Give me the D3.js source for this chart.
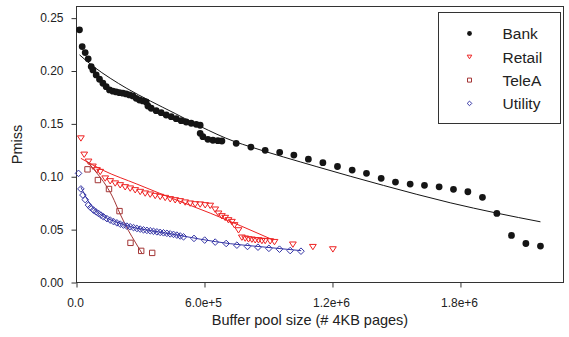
<!DOCTYPE html>
<html>
<head>
<meta charset="utf-8">
<script src="https://cdn.jsdelivr.net/npm/d3@7"></script>
<style>
  html, body { margin: 0; padding: 0; background: #fff; }
  svg { display: block; font-family: "Liberation Sans", Arial, sans-serif; }
</style>
</head>
<body>
<svg id="chart" width="569" height="337"></svg>
<script>
// ---- data: buffer pool size (pages) vs. miss probability ----
const bankX = [14000, 26700, 40800, 54800, 68900, 76900, 92300, 107800, 123750, 139200, 154700, 170600, 186100, 201600, 217500, 233000, 248400, 264400, 279800, 295300, 311300, 326700, 334700, 350200, 373600, 397000, 420500, 443900, 467300, 490800, 514200, 537700, 561100, 579800,
  579800, 592500, 615900, 639400, 662800, 681600,
  748600, 817500, 884500, 952500, 1019000, 1087000, 1155000, 1223400, 1292300, 1359400, 1428300, 1495300, 1564200, 1631250, 1700000, 1767200, 1834700, 1903100, 1970600, 2039100, 2106600, 2175000];
const bankY = [0.2389, 0.2231, 0.2174, 0.2115, 0.2042, 0.2010, 0.1963, 0.1922, 0.1884, 0.1852, 0.1821, 0.1809, 0.1802, 0.1795, 0.1790, 0.1783, 0.1774, 0.1764, 0.1742, 0.1726, 0.1717, 0.1707, 0.1669, 0.1648, 0.1625, 0.1606, 0.1584, 0.1568, 0.1549, 0.1530, 0.1518, 0.1506, 0.1496, 0.1487,
  0.1411, 0.1379, 0.1354, 0.1345, 0.1341, 0.1338,
  0.1316, 0.1281, 0.1250, 0.1231, 0.1205, 0.1166, 0.1133, 0.1097, 0.1063, 0.1032, 0.0985, 0.0950, 0.0931, 0.0919, 0.0905, 0.0881, 0.0858, 0.0805, 0.0653, 0.0445, 0.0369, 0.0344];
const bankFitX = [14060, 79690, 157970, 236250, 345560, 462660, 576560, 740630, 814220, 1126880, 1439060, 1751720, 1970630, 2175000];
const bankFitY = [0.2153, 0.2042, 0.1932, 0.1835, 0.1717, 0.1598, 0.1480, 0.1333, 0.1284, 0.1095, 0.0918, 0.0754, 0.0656, 0.0574];

const retailX = [20600, 36100, 56250, 76900, 95600, 111100, 134500, 158000, 181400, 204800, 228300, 251700, 275200, 298600, 322000, 345500, 368900, 392300, 415800, 439200, 462700, 486100, 509500, 533000, 556400, 579800, 603300, 626700,
  650200, 665600, 681600, 697100, 712500, 728400, 740600, 759400, 775300, 790800, 806300, 822200, 837700, 853100, 869100, 884500, 908000, 928100, 1014400, 1108100, 1201900];
const retailY = [0.1364, 0.1210, 0.1144, 0.1097, 0.1063, 0.1047, 0.0985, 0.0959, 0.0938, 0.0921, 0.0902, 0.0890, 0.0874, 0.0858, 0.0843, 0.0833, 0.0820, 0.0811, 0.0801, 0.0789, 0.0779, 0.0770, 0.0758, 0.0748, 0.0741, 0.0739, 0.0732, 0.0727,
  0.0691, 0.0653, 0.0628, 0.0612, 0.0590, 0.0574, 0.0543, 0.0495, 0.0426, 0.0417, 0.0410, 0.0407, 0.0401, 0.0401, 0.0394, 0.0394, 0.0391, 0.0384, 0.0360, 0.0337, 0.0315];
const retailFitX = [20600, 126600, 283100, 439200, 626700, 767300, 923400];
const retailFitY = [0.1174, 0.1059, 0.0931, 0.0803, 0.0656, 0.0538, 0.0401];

const teleX = [51600, 100300, 152300, 201600, 253100, 303300, 354800];
const teleY = [0.1070, 0.0969, 0.0884, 0.0675, 0.0375, 0.0299, 0.0280];
const teleFitX = [51600, 87700, 126600, 167300, 204800, 242300, 275200, 306600];
const teleFitY = [0.1144, 0.1054, 0.0953, 0.0817, 0.0647, 0.0495, 0.0382, 0.0277];

const utilX = [9400, 20600, 30000, 40800, 56250, 66600, 79700, 91400, 103100, 114800, 126600, 142500, 158000, 173400, 189400, 204800, 220300, 236200, 251700, 267200, 283100, 298600, 314100, 330000, 345500, 360900, 376900, 392300, 407800, 423750, 439200, 454700, 470600, 486100, 501600,
  550800, 600900, 650200, 701700, 751900, 801600, 850800, 901900, 951600, 1001700, 1052300];
const utilY = [0.1032, 0.0885, 0.0827, 0.0784, 0.0732, 0.0708, 0.0685, 0.0668, 0.0653, 0.0637, 0.0621, 0.0604, 0.0590, 0.0576, 0.0564, 0.0552, 0.0543, 0.0533, 0.0527, 0.0519, 0.0511, 0.0505, 0.0498, 0.0493, 0.0489, 0.0484, 0.0479, 0.0474, 0.0470, 0.0465, 0.0460, 0.0455, 0.0448, 0.0440, 0.0432,
  0.0417, 0.0401, 0.0382, 0.0369, 0.0353, 0.0341, 0.0334, 0.0323, 0.0315, 0.0302, 0.0296];
const utilFitX = [20600, 64200, 111100, 181400, 251700, 345500, 462700, 579800, 720400, 861000, 1053300];
const utilFitY = [0.0902, 0.0741, 0.0647, 0.0576, 0.0528, 0.0491, 0.0453, 0.0410, 0.0367, 0.0339, 0.0301];

const yTicks = [0, 0.05, 0.10, 0.15, 0.20, 0.25];
const yTickLabels = ["0.00", "0.05", "0.10", "0.15", "0.20", "0.25"];
const xTicks = [0, 600000, 1200000, 1800000];
const xTickLabels = ["0.0", "6.0e+5", "1.2e+6", "1.8e+6"];

const seriesNames = ["Bank", "Retail", "TeleA", "Utility"];

// ---- layout ----
const svg = d3.select("#chart");
const plot = { left: 76.5, right: 563.5, top: 6.5, bottom: 282.5 };
const x = d3.scaleLinear().domain([0, 2283000]).range([plot.left, plot.right]);
const y = d3.scaleLinear().domain([0, 0.261]).range([plot.bottom, plot.top]);

const ink = "#222";
const colors = { Bank: "#151515", Retail: "#ee2222", TeleA: "#a33535", Utility: "#3535a5" };

// marker path builders (centred at 0,0)
const shapes = {
  Bank: r => d3.symbol(d3.symbolCircle, Math.PI * r * r)(),
  Retail: r => `M${-r},${-r * 0.72}L${r},${-r * 0.72}L0,${r * 0.85}Z`,
  TeleA: r => `M${-r},${-r}H${r}V${r}H${-r}Z`,
  Utility: r => `M0,${-r}L${r},0L0,${r}L${-r},0Z`
};
const plotSize = { Bank: 3.4, Retail: 3.4, TeleA: 2.7, Utility: 3.3 };
const legendSize = { Bank: 2.4, Retail: 2.3, TeleA: 2.0, Utility: 2.3 };

const zip = (xs, ys) => xs.map((v, i) => [v, ys[i]]);

// ---- frame ----
svg.append("rect")
  .attr("x", plot.left).attr("y", plot.top)
  .attr("width", plot.right - plot.left).attr("height", plot.bottom - plot.top)
  .attr("fill", "none").attr("stroke", "#333").attr("stroke-width", 1);

// ---- axes ----
const yAxis = d3.axisLeft(y).tickValues(yTicks).tickSize(5).tickPadding(8)
  .tickFormat((d, i) => yTickLabels[i]);
const gy = svg.append("g").attr("transform", `translate(${plot.left},0)`).call(yAxis);
gy.select(".domain").remove();

const xAxis = d3.axisBottom(x).tickValues(xTicks).tickSize(5).tickPadding(11)
  .tickFormat((d, i) => xTickLabels[i]);
const gx = svg.append("g").attr("transform", `translate(0,${plot.bottom})`).call(xAxis);
gx.select(".domain").remove();

[gx, gy].forEach(g => {
  g.selectAll("line").attr("stroke", "#333");
  g.selectAll("text").attr("fill", ink).style("font-size", "12px")
    .style("font-family", '"Liberation Sans", Arial, sans-serif');
});
gx.selectAll("text").attr("dx", "-1.5");

svg.append("text")
  .attr("x", 310).attr("y", 325)
  .attr("text-anchor", "middle").attr("fill", ink).style("font-size", "14.5px")
  .text("Buffer pool size (# 4KB pages)");
svg.append("text")
  .attr("transform", `translate(22,${(plot.top + plot.bottom) / 2}) rotate(-90)`)
  .attr("text-anchor", "middle").attr("fill", ink).style("font-size", "14.5px")
  .text("Pmiss");

// ---- series ----
const line = d3.line().x(d => x(d[0])).y(d => y(d[1])).curve(d3.curveMonotoneX);

function drawSeries(name, xs, ys, fxs, fys) {
  const g = svg.append("g").attr("class", "series-" + name);
  const filled = name === "Bank";
  g.selectAll("path.pt").data(zip(xs, ys)).join("path")
    .attr("class", "pt")
    .attr("transform", d => `translate(${x(d[0])},${y(d[1])})`)
    .attr("d", shapes[name](plotSize[name]))
    .attr("fill", filled ? colors[name] : "none")
    .attr("stroke", colors[name])
    .attr("stroke-width", filled ? 0 : 1);
  g.append("path")
    .datum(zip(fxs, fys))
    .attr("d", line)
    .attr("fill", "none")
    .attr("stroke", colors[name])
    .attr("stroke-width", 1);
}

drawSeries("Bank", bankX, bankY, bankFitX, bankFitY);
drawSeries("Retail", retailX, retailY, retailFitX, retailFitY);
drawSeries("TeleA", teleX, teleY, teleFitX, teleFitY);
drawSeries("Utility", utilX, utilY, utilFitX, utilFitY);

// ---- legend ----
const legend = svg.append("g");
legend.append("rect")
  .attr("x", 438.5).attr("y", 12.5).attr("width", 122).attr("height", 111)
  .attr("fill", "#fff").attr("stroke", "#333").attr("stroke-width", 1);
seriesNames.forEach((name, i) => {
  const cy = 33.5 + i * 23.3;
  legend.append("path")
    .attr("transform", `translate(469.5,${cy})`)
    .attr("d", shapes[name](legendSize[name]))
    .attr("fill", name === "Bank" ? colors[name] : "none")
    .attr("stroke", colors[name])
    .attr("stroke-width", name === "Bank" ? 0 : 1);
  legend.append("text")
    .attr("x", 502.5).attr("y", cy + 5.8)
    .attr("fill", ink).style("font-size", "15.5px")
    .text(name);
});
</script>
</body>
</html>
